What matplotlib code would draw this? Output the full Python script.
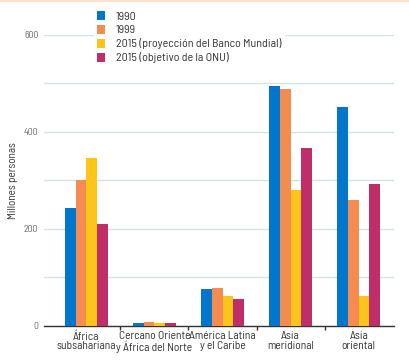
import numpy as np
import matplotlib.pyplot as plt
from matplotlib.lines import Line2D

plt.rcParams['font.family'] = ['Barlow Semi Condensed', 'DejaVu Sans']

regiones = ["África\nsubsahariana", "Cercano Oriente\ny África del Norte",
            "América Latina\ny el Caribe", "Asia\nmeridional", "Asia\noriental"]
series = ["1990", "1999", "2015 (proyección del Banco Mundial)", "2015 (objetivo de la ONU)"]
v1990 = [242, 5, 76, 495, 451]
v1999 = [300, 7, 78, 488, 260]
v2015_bm = [345, 5, 62, 279, 61]
v2015_onu = [209, 5, 54, 367, 293]
colores = ["#0077cc", "#f48c52", "#fdc41a", "#c02e6a"]

fig = plt.figure(figsize=(4.10, 3.63), dpi=100)
ax = fig.add_axes([0.107, 0.103, 0.854, 0.801])

x = np.arange(len(regiones))
w = 0.157
valores = [v1990, v1999, v2015_bm, v2015_onu]
barras = []
for i, (vals, c) in enumerate(zip(valores, colores)):
    b = ax.bar(x + (i - 1.5) * w, vals, w, color=c, zorder=3)
    barras.append(b)

ax.set_xlim(-0.625, 4.52)
ax.set_ylim(0, 600)
ax.set_yticks([0, 200, 400, 600])
ax.set_yticks([100, 300, 500], minor=True)
ax.grid(axis='y', which='both', color='#d3e2ed', linewidth=1, zorder=0)
ax.tick_params(axis='y', which='both', length=0, labelsize=7, labelcolor='#666666', pad=4)

ax.set_xticks(x)
ax.set_xticklabels(regiones, fontsize=8.3, color='#333333', linespacing=0.95)
ax.set_xticks(x[:-1] + 0.5, minor=True)
ax.tick_params(axis='x', which='major', length=0, pad=4)
ax.tick_params(axis='x', which='minor', length=3, width=1, color='#333333')

for s in ['top', 'right', 'left']:
    ax.spines[s].set_visible(False)
ax.spines['bottom'].set_color('#333333')
ax.spines['bottom'].set_linewidth(1)

ax.set_ylabel("Millones personas", fontsize=8, color='#333333')
ax.yaxis.set_label_coords(-0.075, 0.5)

leg = fig.legend(barras, series, loc='upper left', bbox_to_anchor=(0.215, 0.992),
                 fontsize=8.6, frameon=True, framealpha=1, edgecolor='white', facecolor='white',
                 handlelength=0.75, handleheight=0.75, handletextpad=0.85, labelspacing=0.25,
                 borderpad=0.2, fancybox=False)
for t in leg.get_texts():
    t.set_color('#333333')

fig.add_artist(Line2D([0, 1], [0.998, 0.998], color='#fde3cc', linewidth=1.5))

fig.savefig("out.png", dpi=100)
